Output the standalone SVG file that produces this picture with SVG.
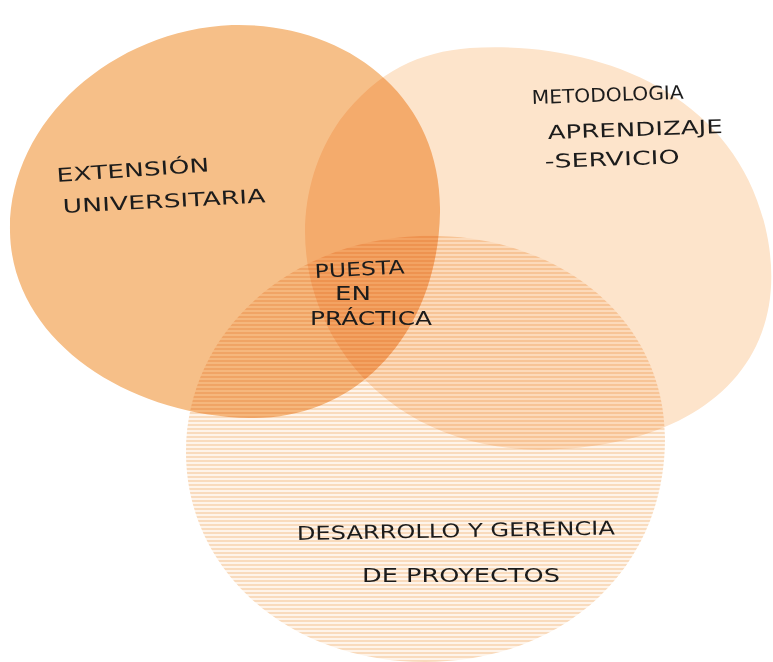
<svg xmlns="http://www.w3.org/2000/svg" width="773" height="662" viewBox="0 0 773 662">
  <defs>
    <pattern id="stripes" width="8" height="4" patternUnits="userSpaceOnUse">
      <rect width="8" height="4" fill="#fef4ea"/>
      <rect y="0" width="8" height="2" fill="#f9dbbd"/>
    </pattern>
  </defs>
  <style>
    .blob { mix-blend-mode: multiply; }
    .lbl { font-family: "DejaVu Sans", "Liberation Sans", sans-serif; font-size: 19px; fill: #1c1c1c; }
  </style>
  <rect width="773" height="662" fill="#ffffff"/>
  <g id="metodologia">
    <path class="blob" fill="#fde4cb" d="M 470 48 C 600 40, 742 95, 768 240 C 790 365, 700 442, 560 449 C 470 455, 380 420, 332 335 C 292 262, 298 180, 340 120 C 378 70, 420 52, 470 48 Z"/>
    <text class="lbl" x="532" y="104" textLength="152" lengthAdjust="spacingAndGlyphs" transform="rotate(-2 532 104)">METODOLOGIA</text>
    <text class="lbl" x="548" y="139" textLength="175" lengthAdjust="spacingAndGlyphs" transform="rotate(-2 548 139)">APRENDIZAJE</text>
    <text class="lbl" x="545" y="168" textLength="135" lengthAdjust="spacingAndGlyphs" transform="rotate(-2 545 168)">-SERVICIO</text>
  </g>
  <g id="extension">
    <path class="blob" fill="#f6bf88" d="M 232 25 C 345 22, 442 95, 440 212 C 438 330, 360 420, 250 418 C 130 416, 12 342, 10 232 C 8 122, 112 30, 232 25 Z"/>
    <text class="lbl" x="57" y="182" textLength="153" lengthAdjust="spacingAndGlyphs" transform="rotate(-4 57 182)">EXTENSIÓN</text>
    <text class="lbl" x="63" y="213" textLength="203" lengthAdjust="spacingAndGlyphs" transform="rotate(-3 63 213)">UNIVERSITARIA</text>
  </g>
  <g id="proyectos">
    <path class="blob" fill="url(#stripes)" d="M 420 236 C 562 232, 666 322, 665 440 C 664 572, 560 662, 425 662 C 290 662, 186 572, 186 452 C 186 332, 290 240, 420 236 Z"/>
    <text class="lbl" x="297" y="540" textLength="318" lengthAdjust="spacingAndGlyphs" transform="rotate(-1 297 540)">DESARROLLO Y GERENCIA</text>
    <text class="lbl" x="362" y="582" textLength="198" lengthAdjust="spacingAndGlyphs">DE PROYECTOS</text>
  </g>
  <g id="puesta-en-practica">
    <text class="lbl" x="315" y="278" textLength="90" lengthAdjust="spacingAndGlyphs" transform="rotate(-3 315 278)">PUESTA</text>
    <text class="lbl" x="335" y="300" textLength="36" lengthAdjust="spacingAndGlyphs">EN</text>
    <text class="lbl" x="310" y="325" textLength="122" lengthAdjust="spacingAndGlyphs">PRÁCTICA</text>
  </g>
  <g id="connectors"/>
</svg>
